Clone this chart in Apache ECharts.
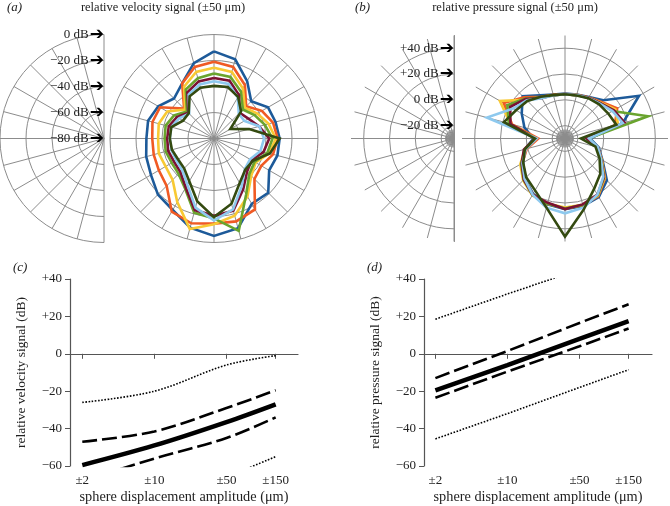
<!DOCTYPE html>
<html><head><meta charset="utf-8">
<script src="https://cdn.jsdelivr.net/npm/echarts@6/dist/echarts.min.js"></script>
<style>html,body{margin:0;padding:0;background:#fff}#c{width:670px;height:506px}</style>
</head><body><div id="c"></div>
<script>
// ---------- data ----------
const angles = [0,15,30,45,60,75,90,105,120,135,150,165,180,195,210,225,240,255,270,285,300,315,330,345];
// (a) relative velocity signal (dB), polar
const velBlue      = [-13,-17,-29,-39.5,-32,-31,-29.5,-29.5,-31,-21,-22,-8.5,-5,-9,-16.5,-19,-24,-26,-28,-27.5,-30.5,-36.5,-31,-20];
const velRed       = [-21,-23,-32.5,-45,-37.5,-33,-31,-33,-38,-36,-17,-14,-14.5,-12.5,-15,-28.5,-31,-32,-32.5,-31,-32,-47.5,-31,-23];
const velYellow    = [-25.5,-27,-35.5,-46.5,-41.5,-36.5,-32.5,-36,-43,-39.5,-28.5,-18.5,-14,-8,-23.5,-35,-37,-36,-37,-36,-38.5,-48.5,-34,-27];
const velGreen     = [-30,-31,-38.5,-48.5,-44,-39.5,-35,-37.5,-44,-41.5,-30.5,-6.5,-18.5,-21,-35.5,-41.5,-42.5,-41.5,-42,-41.5,-44.5,-50.5,-36.5,-32];
const velMaroon    = [-33.5,-34,-41.5,-52,-49.5,-44,-37.5,-40.5,-46.5,-44,-35,-22.5,-20.5,-23,-36.5,-43.5,-44.5,-43.5,-44,-44,-47,-52,-39,-34.5];
const velLightBlue = [-36,-36.5,-43.5,-53,-53,-44,-41.5,-43,-48,-46.5,-37.5,-23.5,-17,-25,-39,-45.5,-46.5,-46,-46,-46,-49,-53,-41,-37];
const velDarkGreen = [-39.5,-39,-43,-50.5,-65.5,-52,-29.5,-35.5,-45.5,-46,-40.5,-28,-19.5,-30,-42,-47.5,-48,-46.5,-46,-46,-52.5,-52.5,-42.5,-39.5];
// (b) relative pressure signal (dB), polar
const presBlue      = [4.9,5.4,7.2,12.1,36.4,16.5,-10.6,-2.9,3.6,16,22.5,24.3,24.8,23,19.6,14,7.5,2.3,-5.5,2.6,8.8,16.5,8.8,5.4];
const presRed       = [4.6,5.1,6.7,10.1,16.8,10.1,-11.9,-3.6,3.1,13.9,21.7,23.7,24.3,22.2,20.4,14.4,8.2,0.7,-9.3,12.6,25,15.2,7.5,5.1];
const presYellow    = [4.4,4.9,6.7,9.3,15.2,12.6,-12.4,-4.2,2.8,13.4,21.2,23.2,23.7,22.5,20.9,16,10.1,2.3,-7.3,13.9,28.4,12.6,6.7,4.9];
const presGreen     = [4.4,4.9,6.4,8.8,12.6,36.7,-11.9,-4.2,2.6,12.9,20.9,23.5,24.3,22.5,20.6,15.5,9.3,2,-7.3,15.2,21.7,13.9,6.7,4.9];
const presMaroon    = [4.4,4.9,6.7,8.8,13.9,17.8,-13.2,-4.2,2.3,12.6,20.4,23,24.8,21.7,20.4,15.2,8.8,3.1,-6.7,13.9,19.1,13.4,6.2,4.9];
const presLightBlue = [4.4,4.9,6.4,8.2,12.6,16.5,-11.4,-3.6,2.3,12.1,20.4,25.6,28.1,25.6,20.4,14.4,8.2,1.5,-8,32.8,16.5,11.9,6.2,4.6];
const presDarkGreen = [4.4,4.6,6.2,7.5,8.8,11.3,-17.6,-5.5,1,8.8,15.2,26.8,46.2,25.6,16.5,12.6,7.5,2.3,-6.7,19.1,13.9,11.3,7.5,4.9];
// ring tick labels
const velRingTicks  = [-80,-60,-40,-20,0];
const presRingTicks = [-20,0,20,40];
// (c),(d) sphere displacement amplitude (µm)
const amplitudes = [2,10,50,150];
const velDotTop  = [-26,-20,-6,-1];
const velDashTop = [-47,-41.5,-29,-19.5];
const velSolid   = [-59.5,-49,-36.5,-27];
const velDashBot = [-68,-56,-45,-34];
const velDotBot  = [null,null,-66,-55];
const presDotTop  = [18.5,32,45,54];
const presDashTop = [-13,1.5,16.5,26.5];
const presSolid   = [-19.5,-6,8,17.5];
const presDashBot = [-23.5,-9.5,4,13.5];
const presDotBot  = [-45.5,-32,-18,-8.5];
const yTicks = [-60,-40,-20,0,20,40];

// ---------- styling ----------
const SERIF = 'Liberation Serif';
const TXT = '#222';
const colors = ['#1d5a99','#f05a24','#f8c934','#69a42e','#7b1233','#8ec9ee','#344a10'];
const gridLine = {color:'#8c8c8c', width:1};
const sgn = v => v > 0 ? '+' + v : (v < 0 ? '\u2212' + Math.abs(v) : '0');

function angleAx(pi, half, interval, split, start){
  const s = start === undefined ? 90 : start;
  const o = {polarIndex:pi, type:'value', min:0, max: half ? 180 : 360, interval,
    startAngle:s, clockwise: !half,
    axisLine:{show:false}, axisTick:{show:false}, axisLabel:{show:false},
    splitLine:{show:split, lineStyle:gridLine}, splitArea:{show:false}};
  if (half) o.endAngle = s + 180;
  return o;
}
function radiusAx(pi, min, max, split, labels, line){
  return {polarIndex:pi, type:'value', min, max, interval:20,
    axisLine:{show:!!line, lineStyle:gridLine}, axisTick:{show:false},
    axisLabel: labels ? {show:true, margin:0, align:'right', verticalAlign:'middle',
      formatter: v => '{t|' + sgn(v) + ' dB}{a|\u2794}',
      rich:{t:{fontFamily:SERIF, fontSize:13, color:TXT, padding:[0,1,0,0]},
            a:{fontFamily:'DejaVu Sans', fontSize:17, color:'#000'}}} : {show:false},
    splitLine:{show:split, lineStyle:gridLine}, splitArea:{show:false}};
}

const polar = [
  {center:[104,138.5], radius:104},          // 0 a-left
  {center:[214,138.5], radius:104},          // 1 a-right
  {center:[454,138.5], radius:103},          // 2 b-left spokes
  {center:[454,138.5], radius:[12.9,90.3]},  // 3 b-left rings
  {center:[454,138.5], radius:9},            // 4 b-left centre
  {center:[565,138.5], radius:103},          // 5 b-right spokes + data
  {center:[565,138.5], radius:[12.9,90.3]},  // 6 b-right rings
  {center:[565,138.5], radius:9},            // 7 b-right centre
  {center:[454,138.5], radius:103}           // 8 b-left lower edge line
];
const angleAxis = [
  angleAx(0,true,15,true), angleAx(1,false,15,true),
  angleAx(2,true,15,true), angleAx(3,true,15,false), angleAx(4,true,7.5,true),
  angleAx(5,false,15,true), angleAx(6,false,15,false), angleAx(7,false,7.5,true),
  angleAx(8,true,15,false,270)
];
const radiusAxis = [
  radiusAx(0,-80,0,true,true), radiusAx(1,-80,0,true,false),
  radiusAx(2,-30,50,false,false,true), radiusAx(3,-20,40,true,true), radiusAx(4,0,1,false,false),
  radiusAx(5,-30,50,false,false), radiusAx(6,-20,40,true,false), radiusAx(7,0,1,false,false),
  radiusAx(8,-30,50,false,false,true)
];

const series = [];
function polyline(arr, pi, ci){
  const d = arr.map((v,i) => [v, angles[i]]);
  d.push([arr[0], 360]);
  series.push({type:'line', coordinateSystem:'polar', polarIndex:pi, data:d,
    symbol:'none', silent:true, animation:false,
    lineStyle:{color:colors[ci], width:2.6, join:'miter'}});
}
[velBlue,velRed,velYellow,velGreen,velMaroon,velLightBlue,velDarkGreen].forEach((a,i)=>polyline(a,1,i));
[presBlue,presRed,presYellow,presGreen,presMaroon,presLightBlue,presDarkGreen].forEach((a,i)=>polyline(a,5,i));

function cart(arr, gi, style, smooth){
  series.push({type:'line', xAxisIndex:gi, yAxisIndex:gi, data: amplitudes.map((x,i)=>[x, arr[i]]),
    symbol:'none', smooth: smooth, silent:true, animation:false, clip:true,
    lineStyle:Object.assign({color:'#000'}, style)});
}
const SOLID = {width:4.5}, DASH = {width:2.6, type:[15,5]}, DOT = {width:1.6, type:'dotted'};
cart(velDotTop,0,DOT,0.35); cart(velDashTop,0,DASH,0.35); cart(velSolid,0,SOLID,0.35);
cart(velDashBot,0,DASH,0.35); cart(velDotBot,0,DOT,0.35);
cart(presDotTop,1,DOT,false); cart(presDashTop,1,DASH,false); cart(presSolid,1,SOLID,false);
cart(presDashBot,1,DASH,false); cart(presDotBot,1,DOT,false);

const axisCol = '#555';
function xAx(gi, min, max){
  return {gridIndex:gi, type:'log', logBase:10, min, max,
    name:'sphere displacement amplitude (\u03bcm)', nameLocation:'middle', nameGap:24,
    nameTextStyle:{fontFamily:SERIF, fontSize:14.3, color:TXT},
    axisLine:{lineStyle:{color:axisCol, width:1.2}},
    axisTick:{show:true, length:5, lineStyle:{color:axisCol}, customValues:amplitudes},
    axisLabel:{fontFamily:SERIF, fontSize:13, color:TXT, margin:8, customValues:amplitudes,
      formatter: v => '\u00b1' + Math.round(v)},
    splitLine:{show:false}, minorTick:{show:false}};
}
function yAx(gi, name){
  return {gridIndex:gi, type:'value', min:yTicks[0], max:yTicks[yTicks.length-1], interval:20,
    name, nameLocation:'middle', nameGap:42, nameRotate:90,
    nameTextStyle:{fontFamily:SERIF, fontSize:13.5, color:TXT},
    axisLine:{show:true, lineStyle:{color:axisCol, width:1.2}},
    axisTick:{show:true, length:5, lineStyle:{color:axisCol}},
    axisLabel:{fontFamily:SERIF, fontSize:13, color:TXT, margin:8, formatter: sgn},
    splitLine:{show:false}};
}

const titleStyle = {fontFamily:SERIF, fontSize:12.5, fontWeight:'normal', color:TXT};
const italic = Object.assign({}, titleStyle, {fontStyle:'italic', fontSize:13});
const option = {
  backgroundColor:'#fff',
  animation:false,
  title:[
    {text:'(a)', left:2, top:-4, textStyle:italic},
    {text:'relative velocity signal (\u00b150 \u03bcm)', left:158, top:-4, textAlign:'center', textStyle:titleStyle},
    {text:'(b)', left:350, top:-4, textStyle:italic},
    {text:'relative pressure signal (\u00b150 \u03bcm)', left:510, top:-4, textAlign:'center', textStyle:titleStyle},
    {text:'(c)', left:8, top:256, textStyle:italic},
    {text:'(d)', left:362, top:256, textStyle:italic}
  ],
  polar, angleAxis, radiusAxis,
  grid:[
    {left:70, top:279, width:228, height:187},
    {left:424, top:279, width:228, height:187}
  ],
  xAxis:[xAx(0,1.52,247), xAx(1,1.55,253)],
  yAxis:[yAx(0,'relative velocity signal (dB)'), yAx(1,'relative pressure signal (dB)')],
  series
};
const chart = echarts.init(document.getElementById('c'), null, {renderer:'canvas'});
chart.setOption(option);
</script></body></html>
